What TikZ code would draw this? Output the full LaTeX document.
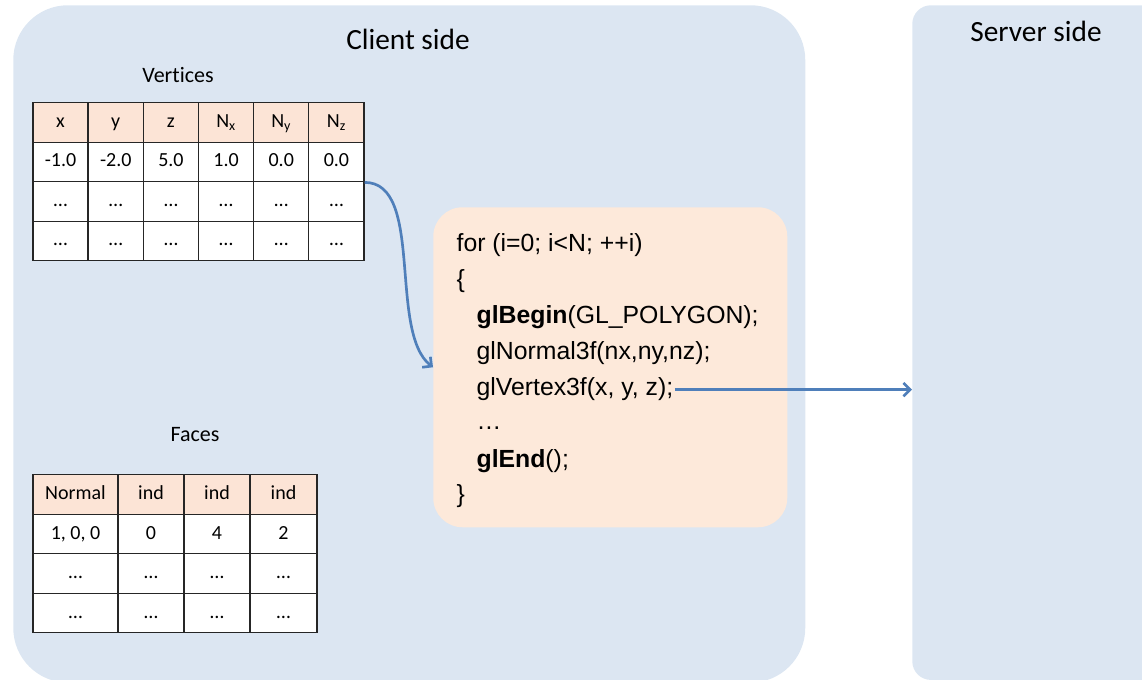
\documentclass[tikz,border=0pt]{standalone}
\usepackage{fontspec}
\setmainfont{Carlito}[Ligatures=NoCommon]
\newfontfamily\codefont{Liberation Sans}
\usetikzlibrary{arrows.meta}

\definecolor{panelblue}{HTML}{DCE6F2}
\definecolor{headfill}{HTML}{FCE4D6}
\definecolor{codefill}{HTML}{FDE9DA}
\definecolor{linkblue}{HTML}{4F7FBA}

\tikzset{
  panel/.style={fill=panelblue, draw=none, inner sep=0pt, anchor=north west},
  title/.style={anchor=base, font=\fontsize{22}{26}\selectfont},
  label/.style={anchor=base, font=\fontsize{16.5}{20}\selectfont},
  cell/.style={draw=black!85, line width=1pt, fill=white, minimum height=29.6pt, inner sep=0pt, text height=10pt, text depth=2.5pt, font=\fontsize{15}{17}\selectfont},
  hcell/.style={cell, fill=headfill},
  codeline/.style={anchor=base west, inner sep=1pt, font=\codefont\fontsize{18.6}{22}\selectfont},
  link/.style={draw=linkblue, line width=2pt, -{Straight Barb[length=5pt,width=10pt]}}
}

\begin{document}
\begin{tikzpicture}[x=0.75pt, y=-0.75pt]
\clip (0,0) rectangle (1142,680);

\node[panel, rounded corners=41pt, minimum width=594pt, minimum height=508pt] (client) at (13,5) {};
\node[panel, rounded corners=14pt, minimum width=190pt, minimum height=506pt] (server) at (912,5) {};

\node[title] (clienttitle) at (408,50) {Client side};
\node[title] (servertitle) at (1036,42) {Server side};

\node[label] (vertlabel) at (178,83) {Vertices};
\foreach \t [count=\c] in {x,y,z,N\textsubscript{x},N\textsubscript{y},N\textsubscript{z}}
  \node[hcell, minimum width=41.4pt] (v-1-\c) at ({33+55.17*\c-27.6},122.5) {\t};
\foreach \t [count=\c] in {-1.0,-2.0,5.0,1.0,0.0,0.0}
  \node[cell, minimum width=41.4pt] (v-2-\c) at ({33+55.17*\c-27.6},162) {\t};
\foreach \r/\y in {3/201.5,4/241}
  \foreach \c in {1,...,6}
    \node[cell, minimum width=41.4pt] (v-\r-\c) at ({33+55.17*\c-27.6},\y) {…};

\node[label] (facelabel) at (195,442) {Faces};
\foreach \t/\xc/\w [count=\c] in {Normal/75.5/85, ind/151/66, ind/217/66, ind/283.5/67} {
  \node[hcell, minimum width={\w*0.75pt}] (f-1-\c) at (\xc,494.5) {\t};
}
\foreach \t/\xc/\w [count=\c] in {{1, 0, 0}/75.5/85, 0/151/66, 4/217/66, 2/283.5/67} {
  \node[cell, minimum width={\w*0.75pt}] (f-2-\c) at (\xc,534) {\t};
  \node[cell, minimum width={\w*0.75pt}] (f-3-\c) at (\xc,573.5) {…};
  \node[cell, minimum width={\w*0.75pt}] (f-4-\c) at (\xc,613) {…};
}

\node[panel, fill=codefill, rounded corners=22pt, minimum width=265.5pt, minimum height=240pt] (code) at (433,207) {};
\node[codeline] (loop) at (455,252) {for (i=0; i<N; ++i)};
\node[codeline] (open) at (455,288) {\{};
\node[codeline] (begin) at (475,324) {\textbf{glBegin}(GL\_POLYGON);};
\node[codeline] (normal) at (475,360) {glNormal3f(nx,ny,nz);};
\node[codeline] (vertex) at (475,396) {glVertex3f(x, y, z);};
\node[codeline] (dots) at (475,430) {…};
\node[codeline] (endcall) at (475,468) {\textbf{glEnd}();};
\node[codeline] (close) at (455,503) {\}};

\draw[link] (v-2-6.south east) .. controls +(60,0) and +(-45,-35) .. (code.west);
\draw[link] (vertex.east) -- (vertex.east -| server.west);
\end{tikzpicture}
\end{document}
